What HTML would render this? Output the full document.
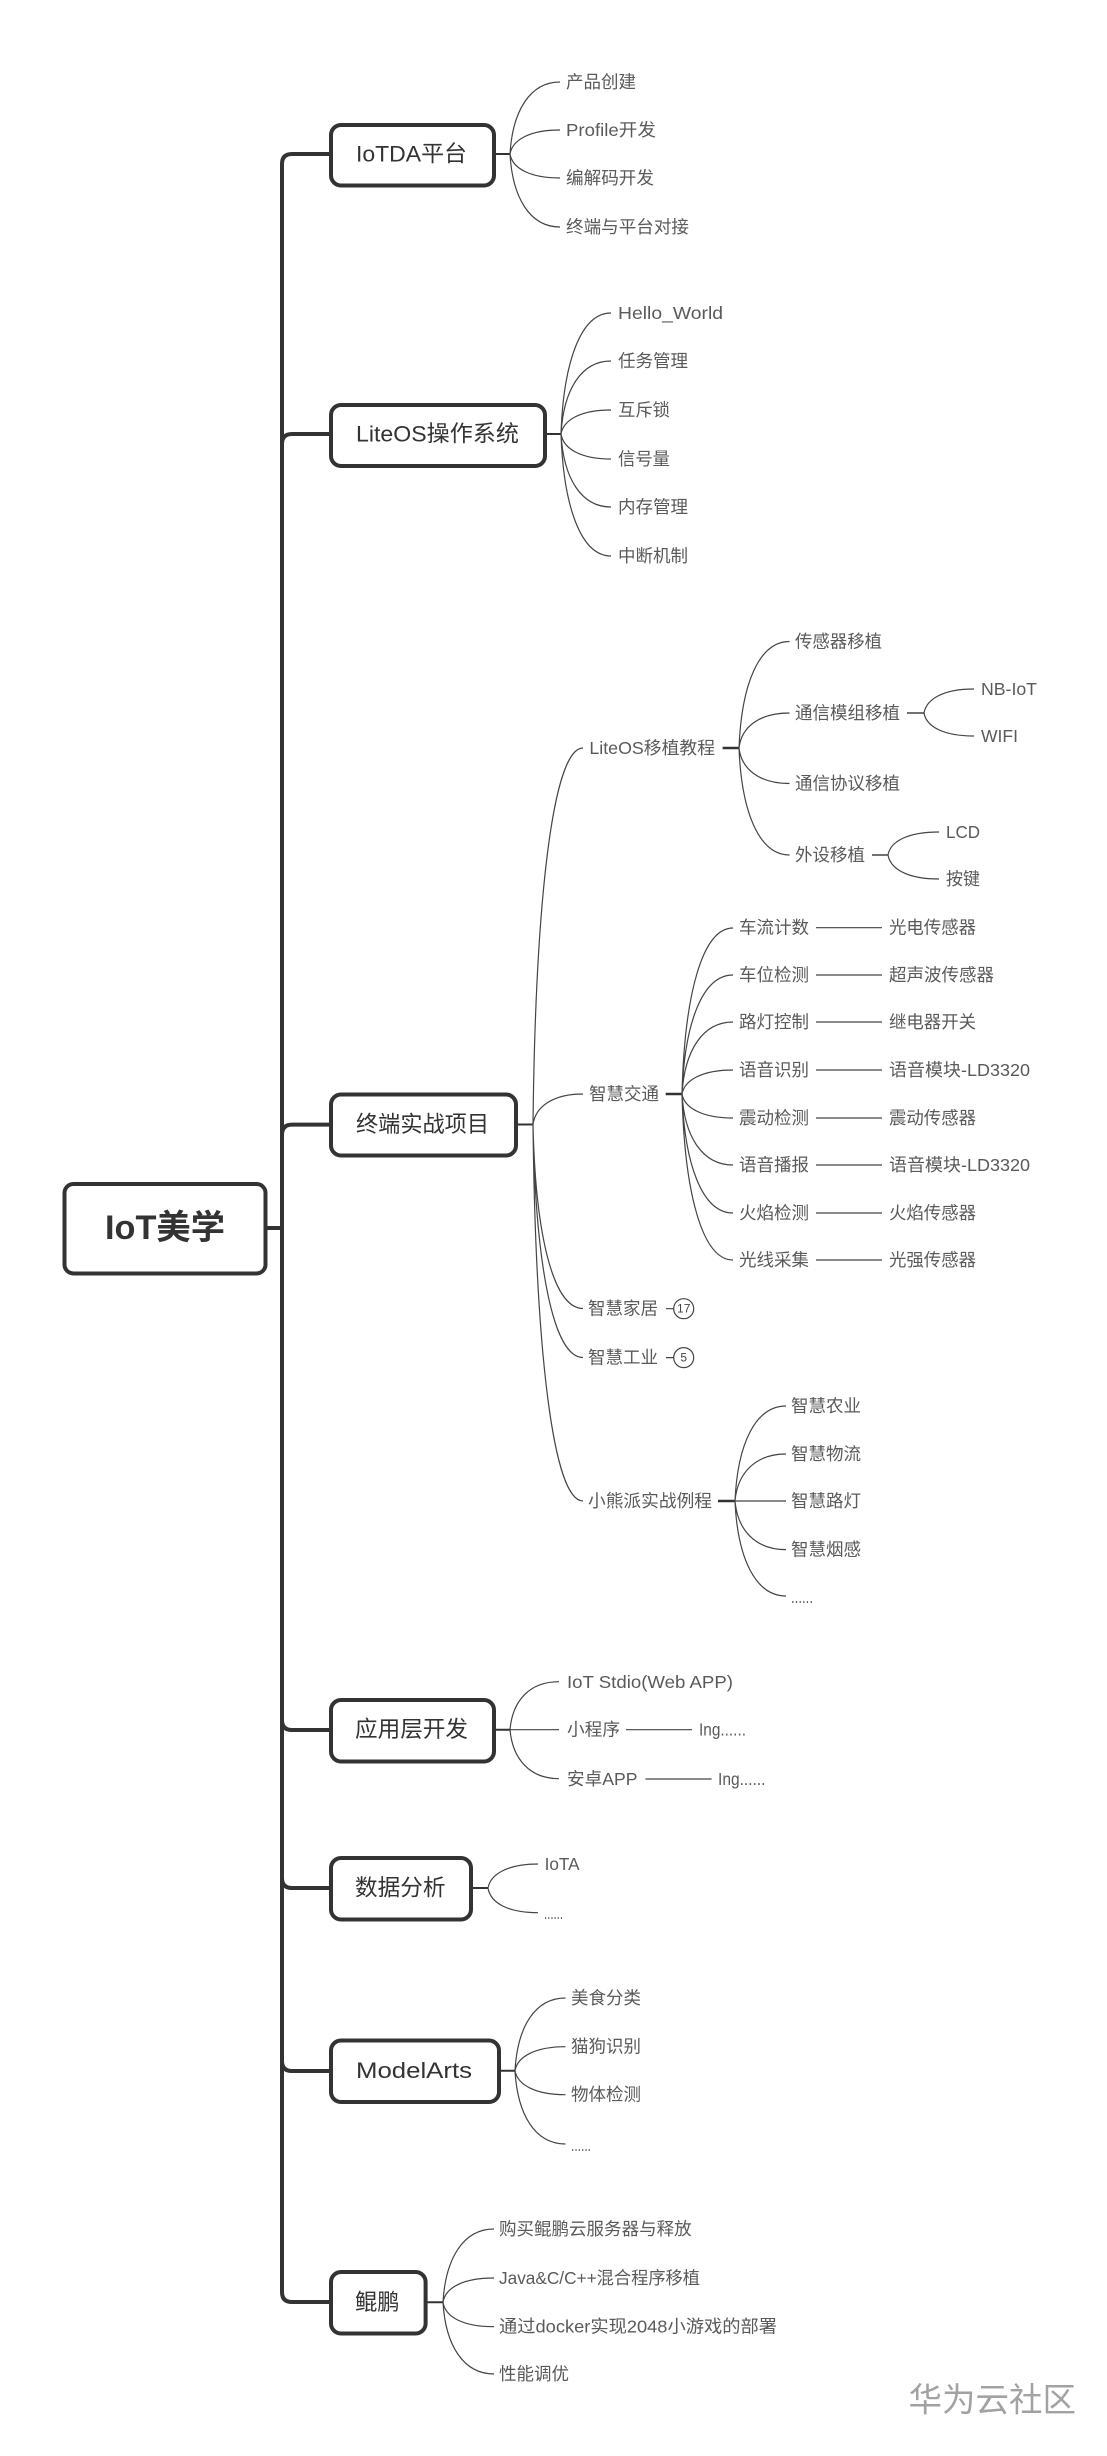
<!DOCTYPE html>
<html lang="zh">
<head>
<meta charset="utf-8">
<title>IoT美学</title>
<style>
html,body{margin:0;padding:0;background:#fff}
svg{display:block}
text{font-family:"Liberation Sans","Noto Sans CJK SC",sans-serif;dominant-baseline:central}
.c{font-size:17.5px;fill:#5a5a5a}
.d{font-size:17.5px;fill:#5a5a5a;dominant-baseline:auto}
.b{font-size:22.5px;fill:#333}
.r{font-size:34px;font-weight:bold;fill:#333}
.n{font-size:12px;fill:#444;text-anchor:middle}
.w{font-size:33.5px;fill:#a2a2a2}
.box{fill:#fff;stroke:#333;stroke-width:4}
.sp{fill:none;stroke:#333;stroke-width:4;stroke-linecap:round}
.m{fill:none;stroke:#333;stroke-width:2}
.m2{fill:none;stroke:#333;stroke-width:2.4}
.m3{fill:none;stroke:#444;stroke-width:1.6}
.t{fill:none;stroke:#444;stroke-width:1.2}
</style>
</head>
<body>
<svg xmlns="http://www.w3.org/2000/svg" width="1107" height="2456" viewBox="0 0 1107 2456">
<rect width="1107" height="2456" fill="#fff"/>

<!-- spine -->
<path class="sp" d="M331 154H292Q282 154 282 164V2292Q282 2302 292 2302H331"/>
<path class="sp" d="M282 444Q282 434 292 434H331"/>
<path class="sp" d="M282 1135Q282 1124.6 292 1124.6H331"/>
<path class="sp" d="M282 1720Q282 1730 292 1730H331"/>
<path class="sp" d="M282 1878Q282 1888 292 1888H331"/>
<path class="sp" d="M282 2061Q282 2071 292 2071H331"/>
<path class="sp" d="M266 1228H282"/>

<!-- first-level connectors -->
<path class="m" d="M494 154H510M545 434H561M516 1124.5H533M494 1729.7H510M471 1888H488M499 2070.7H515M425.6 2302.3H443"/>
<path class="m2" d="M722.6 748H739M665.7 1094H682M718 1501H735"/>
<path class="m3" d="M907 713H924M872 855H888"/>

<!-- IoTDA curves -->
<path class="t" d="M510 154c2.5 -43 20 -72 50 -72M510 154c2.5 -14.4 20 -24 50 -24M510 154c2.5 14.4 20 24 50 24M510 154c2.5 44 20 73 50 73"/>
<!-- LiteOS curves -->
<path class="t" d="M561 434c2.5 -72.6 20 -121 50 -121M561 434c2.5 -44 20 -73 50 -73M561 434c2.5 -14.4 20 -24 50 -24M561 434c2.5 15 20 25 50 25M561 434c2.5 44 20 73 50 73M561 434c2.5 73 20 122 50 122"/>
<!-- Terminal curves -->
<path class="t" d="M533 1124.5c2.5 -226 20 -376.5 50 -376.5M533 1124.5c2.5 -18 20 -30.5 50 -30.5M533 1124.5c2.5 110 20 184 50 184M533 1124.5c2.5 140 20 233 50 233M533 1124.5c2.5 226 20 376.5 50 376.5"/>
<!-- LiteOS port -->
<path class="t" d="M739 748c2.5 -64 20 -106.5 50.5 -106.5M739 748c2.5 -21 20 -35 50.5 -35M739 748c2.5 21 20 35.5 50.5 35.5M739 748c2.5 64 20 107 50.5 107"/>
<path class="t" d="M924 713c2.5 -14.4 20 -24 50 -24M924 713c2.5 14 20 23 50 23M888 855c2.5 -14 20.4 -23 51 -23M888 855c2.5 14.4 20.4 24 51 24"/>
<!-- Traffic -->
<path class="t" d="M682 1094c2.5 -100 20.4 -166 51 -166M682 1094c2.5 -71 20.4 -119 51 -119M682 1094c2.5 -43 20.4 -72 51 -72M682 1094c2.5 -14 20.4 -24 51 -24M682 1094c2.5 14 20.4 24 51 24M682 1094c2.5 43 20.4 71 51 71M682 1094c2.5 71 20.4 119 51 119M682 1094c2.5 100 20.4 166 51 166"/>
<path class="t" d="M816 927.7H882M816 975H882M816 1022H882M816 1070H882M816 1118H882M816 1165H882M816 1213H882M816 1260H882"/>
<!-- stubs + circles -->
<path class="t" d="M666 1308.7H673.5M666 1357.6H673.5"/>
<circle cx="683.7" cy="1308.7" r="10" fill="#fff" stroke="#444" stroke-width="1.2"/>
<circle cx="683.7" cy="1357.6" r="10" fill="#fff" stroke="#444" stroke-width="1.2"/>
<text class="n" x="683.7" y="1308.7">17</text>
<text class="n" x="683.7" y="1357.6">5</text>
<!-- Bear Pi -->
<path class="t" d="M735 1501c2.5 -57 20.4 -95 51 -95M735 1501c2.5 -28 20.4 -47 51 -47M735 1501H786M735 1501c2.5 29 20.4 48.6 51 48.6M735 1501c2.5 57 20.4 95 51 95"/>
<!-- App -->
<path class="t" d="M510 1729.7c2.5 -29 19.6 -48 49 -48M510 1729.7H559M510 1729.7c2.5 29 19.6 49 49 49M626 1729.7H692M645.5 1779H711.6"/>
<!-- Data -->
<path class="t" d="M488 1888c2.5 -14 20 -24 50 -24M488 1888c2.5 15 20 24.7 50 24.7"/>
<!-- ModelArts -->
<path class="t" d="M515 2070.7c2.5 -44 20 -72.7 50.5 -72.7M515 2070.7c2.5 -14 20 -24 50.5 -24M515 2070.7c2.5 14 20 24 50.5 24M515 2070.7c2.5 44 20 73.3 50.5 73.3"/>
<!-- Kunpeng -->
<path class="t" d="M443 2302.3c2.5 -44 20.4 -73.3 51 -73.3M443 2302.3c2.5 -15 20.4 -24.3 51 -24.3M443 2302.3c2.5 15 20.4 24.4 51 24.4M443 2302.3c2.5 43 20.4 71.7 51 71.7"/>

<!-- boxes -->
<rect class="box" x="64.5" y="1184" width="201" height="89.5" rx="9"/>
<rect class="box" x="331" y="125" width="163" height="60.5" rx="10"/>
<rect class="box" x="331" y="405" width="214" height="61" rx="10"/>
<rect class="box" x="331" y="1094.5" width="185" height="61" rx="10"/>
<rect class="box" x="331" y="1700" width="163" height="61.5" rx="10"/>
<rect class="box" x="331" y="1858" width="140" height="61.5" rx="10"/>
<rect class="box" x="331" y="2040.5" width="168" height="61.5" rx="10"/>
<rect class="box" x="331" y="2272" width="94.6" height="61.5" rx="10"/>

<!-- box labels -->
<text class="r" x="105" y="1228" textLength="120" lengthAdjust="spacingAndGlyphs">IoT美学</text>
<text class="b" x="356" y="154" textLength="111" lengthAdjust="spacingAndGlyphs">IoTDA平台</text>
<text class="b" x="356" y="434" textLength="163" lengthAdjust="spacingAndGlyphs">LiteOS操作系统</text>
<text class="b" x="356" y="1124.6" textLength="133" lengthAdjust="spacingAndGlyphs">终端实战项目</text>
<text class="b" x="355" y="1729.7" textLength="113" lengthAdjust="spacingAndGlyphs">应用层开发</text>
<text class="b" x="355" y="1888" textLength="90.5" lengthAdjust="spacingAndGlyphs">数据分析</text>
<text class="b" x="356" y="2070.7" textLength="116" lengthAdjust="spacingAndGlyphs">ModelArts</text>
<text class="b" x="355" y="2302.3" textLength="44.5" lengthAdjust="spacingAndGlyphs">鲲鹏</text>

<!-- IoTDA -->
<text class="c" x="566" y="82" textLength="70" lengthAdjust="spacingAndGlyphs">产品创建</text>
<text class="c" x="566" y="130" textLength="90" lengthAdjust="spacingAndGlyphs">Profile开发</text>
<text class="c" x="566" y="178" textLength="88" lengthAdjust="spacingAndGlyphs">编解码开发</text>
<text class="c" x="566" y="227" textLength="123" lengthAdjust="spacingAndGlyphs">终端与平台对接</text>
<!-- LiteOS -->
<text class="c" x="618" y="313" textLength="105" lengthAdjust="spacingAndGlyphs">Hello_World</text>
<text class="c" x="618" y="361" textLength="70" lengthAdjust="spacingAndGlyphs">任务管理</text>
<text class="c" x="618" y="410" textLength="52" lengthAdjust="spacingAndGlyphs">互斥锁</text>
<text class="c" x="618" y="459" textLength="52" lengthAdjust="spacingAndGlyphs">信号量</text>
<text class="c" x="618" y="507" textLength="70" lengthAdjust="spacingAndGlyphs">内存管理</text>
<text class="c" x="618" y="556" textLength="70" lengthAdjust="spacingAndGlyphs">中断机制</text>
<!-- Terminal L2 -->
<text class="c" x="589.4" y="748" textLength="125.6" lengthAdjust="spacingAndGlyphs">LiteOS移植教程</text>
<text class="c" x="589" y="1094" textLength="70" lengthAdjust="spacingAndGlyphs">智慧交通</text>
<text class="c" x="588" y="1308.7" textLength="70" lengthAdjust="spacingAndGlyphs">智慧家居</text>
<text class="c" x="588" y="1357.6" textLength="70" lengthAdjust="spacingAndGlyphs">智慧工业</text>
<text class="c" x="588" y="1501" textLength="124" lengthAdjust="spacingAndGlyphs">小熊派实战例程</text>
<!-- Port -->
<text class="c" x="795" y="641.5" textLength="87" lengthAdjust="spacingAndGlyphs">传感器移植</text>
<text class="c" x="795" y="713" textLength="105" lengthAdjust="spacingAndGlyphs">通信模组移植</text>
<text class="c" x="795" y="783.5" textLength="105" lengthAdjust="spacingAndGlyphs">通信协议移植</text>
<text class="c" x="795" y="855" textLength="70" lengthAdjust="spacingAndGlyphs">外设移植</text>
<text class="c" x="981" y="689" textLength="56" lengthAdjust="spacingAndGlyphs">NB-IoT</text>
<text class="c" x="981" y="736" textLength="37" lengthAdjust="spacingAndGlyphs">WIFI</text>
<text class="c" x="946" y="832" textLength="34" lengthAdjust="spacingAndGlyphs">LCD</text>
<text class="c" x="946" y="879" textLength="34" lengthAdjust="spacingAndGlyphs">按键</text>
<!-- Traffic -->
<text class="c" x="739" y="927.7" textLength="70" lengthAdjust="spacingAndGlyphs">车流计数</text>
<text class="c" x="739" y="975" textLength="70" lengthAdjust="spacingAndGlyphs">车位检测</text>
<text class="c" x="739" y="1022" textLength="70" lengthAdjust="spacingAndGlyphs">路灯控制</text>
<text class="c" x="739" y="1070" textLength="70" lengthAdjust="spacingAndGlyphs">语音识别</text>
<text class="c" x="739" y="1118" textLength="70" lengthAdjust="spacingAndGlyphs">震动检测</text>
<text class="c" x="739" y="1165" textLength="70" lengthAdjust="spacingAndGlyphs">语音播报</text>
<text class="c" x="739" y="1213" textLength="70" lengthAdjust="spacingAndGlyphs">火焰检测</text>
<text class="c" x="739" y="1260" textLength="70" lengthAdjust="spacingAndGlyphs">光线采集</text>
<text class="c" x="889" y="927.7" textLength="87" lengthAdjust="spacingAndGlyphs">光电传感器</text>
<text class="c" x="889" y="975" textLength="105" lengthAdjust="spacingAndGlyphs">超声波传感器</text>
<text class="c" x="889" y="1022" textLength="87" lengthAdjust="spacingAndGlyphs">继电器开关</text>
<text class="c" x="889" y="1070" textLength="141" lengthAdjust="spacingAndGlyphs">语音模块-LD3320</text>
<text class="c" x="889" y="1118" textLength="87" lengthAdjust="spacingAndGlyphs">震动传感器</text>
<text class="c" x="889" y="1165" textLength="141" lengthAdjust="spacingAndGlyphs">语音模块-LD3320</text>
<text class="c" x="889" y="1213" textLength="87" lengthAdjust="spacingAndGlyphs">火焰传感器</text>
<text class="c" x="889" y="1260" textLength="87" lengthAdjust="spacingAndGlyphs">光强传感器</text>
<!-- Bear Pi -->
<text class="c" x="791" y="1406" textLength="70" lengthAdjust="spacingAndGlyphs">智慧农业</text>
<text class="c" x="791" y="1454" textLength="70" lengthAdjust="spacingAndGlyphs">智慧物流</text>
<text class="c" x="791" y="1501" textLength="70" lengthAdjust="spacingAndGlyphs">智慧路灯</text>
<text class="c" x="791" y="1549.6" textLength="70" lengthAdjust="spacingAndGlyphs">智慧烟感</text>
<text class="d" x="791" y="1603" textLength="22" lengthAdjust="spacingAndGlyphs">......</text>
<!-- App -->
<text class="c" x="567" y="1682" textLength="166" lengthAdjust="spacingAndGlyphs">IoT Stdio(Web APP)</text>
<text class="c" x="567" y="1729.7" textLength="53" lengthAdjust="spacingAndGlyphs">小程序</text>
<text class="c" x="567" y="1779" textLength="70.5" lengthAdjust="spacingAndGlyphs">安卓APP</text>
<text class="c" x="699" y="1729.7" textLength="47" lengthAdjust="spacingAndGlyphs">Ing......</text>
<text class="c" x="718" y="1779" textLength="47.5" lengthAdjust="spacingAndGlyphs">Ing......</text>
<!-- Data -->
<text class="c" x="544.6" y="1864" textLength="35" lengthAdjust="spacingAndGlyphs">IoTA</text>
<text class="d" x="544" y="1919" textLength="19" lengthAdjust="spacingAndGlyphs">......</text>
<!-- ModelArts -->
<text class="c" x="571" y="1998" textLength="70" lengthAdjust="spacingAndGlyphs">美食分类</text>
<text class="c" x="571" y="2046.7" textLength="70" lengthAdjust="spacingAndGlyphs">猫狗识别</text>
<text class="c" x="571" y="2094.7" textLength="70" lengthAdjust="spacingAndGlyphs">物体检测</text>
<text class="d" x="571" y="2151" textLength="20" lengthAdjust="spacingAndGlyphs">......</text>
<!-- Kunpeng -->
<text class="c" x="499" y="2229" textLength="192.6" lengthAdjust="spacingAndGlyphs">购买鲲鹏云服务器与释放</text>
<text class="c" x="499" y="2278" textLength="201" lengthAdjust="spacingAndGlyphs">Java&amp;C/C++混合程序移植</text>
<text class="c" x="499" y="2326.7" textLength="278" lengthAdjust="spacingAndGlyphs">通过docker实现2048小游戏的部署</text>
<text class="c" x="499" y="2374" textLength="70" lengthAdjust="spacingAndGlyphs">性能调优</text>

<!-- watermark -->
<text class="w" x="908.5" y="2401" textLength="167.5" lengthAdjust="spacingAndGlyphs">华为云社区</text>
</svg>
</body>
</html>
